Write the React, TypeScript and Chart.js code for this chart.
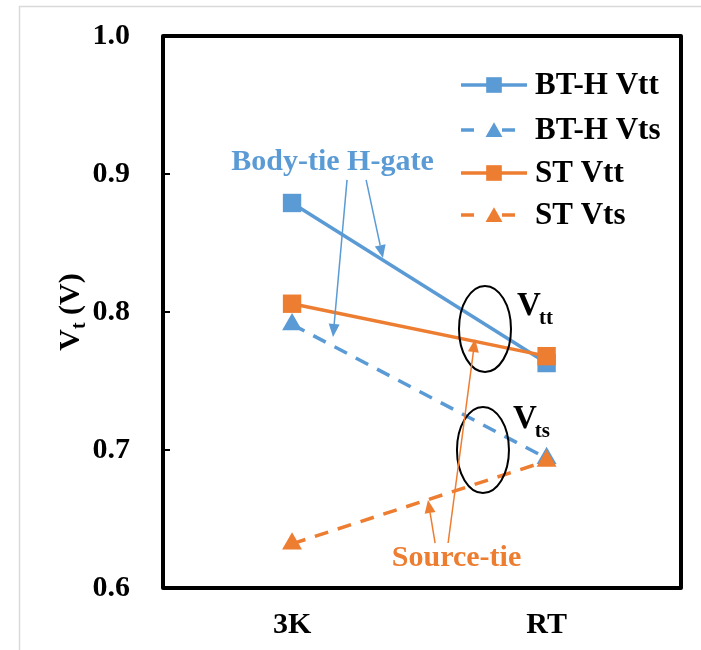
import React, { useEffect, useRef } from "react";
import { Chart, registerables } from "chart.js";

Chart.register(...registerables);

// Temperatures on the x axis
const categories = ["3K", "RT"];

// Threshold voltages (V)
const btVtt = [0.879, 0.763];
const btVts = [0.791, 0.694];
const stVtt = [0.806, 0.768];
const stVts = [0.632, 0.692];

// Y axis range / ticks
const yMin = 0.6;
const yMax = 1.0;
const yStep = 0.1;

const BLUE = "#5B9BD5";
const ORANGE = "#ED7D31";
const SERIF = "'Liberation Serif', 'Times New Roman', serif";
const FONT_SIZE = 30;
const LEGEND_SIZE = 31;
const SUB_SIZE = 20;

type Series = {
  label: string;
  data: number[];
  color: string;
  dashed: boolean;
  marker: "rect" | "triangle";
  order: number;
};

const series: Series[] = [
  { label: "BT-H Vtt", data: btVtt, color: BLUE, dashed: false, marker: "rect", order: 4 },
  { label: "BT-H Vts", data: btVts, color: BLUE, dashed: true, marker: "triangle", order: 3 },
  { label: "ST Vtt", data: stVtt, color: ORANGE, dashed: false, marker: "rect", order: 2 },
  { label: "ST Vts", data: stVts, color: ORANGE, dashed: true, marker: "triangle", order: 1 },
];

const DASH = [14, 10];
const RECT_R = 13;
const TRI_R = 11.5;

// Callout arrows, in data coordinates (x index, voltage)
const arrows = [
  { from: [0.216, 0.8957], to: [0.161, 0.7819], color: BLUE },
  { from: [0.291, 0.8957], to: [0.357, 0.8391], color: BLUE },
  { from: [0.562, 0.6326], to: [0.534, 0.6638], color: ORANGE },
  { from: [0.613, 0.6326], to: [0.719, 0.7804], color: ORANGE },
];

// Ellipses grouping the Vtt and Vts end points
const ellipses = [
  { at: [0.758, 0.7877], sub: "tt", labelAt: [0.884, 0.7978] },
  { at: [0.75, 0.7], sub: "ts", labelAt: [0.868, 0.716] },
];

const callouts = [
  { text: "Body-tie H-gate", at: [0.159, 0.9087], color: BLUE },
  { text: "Source-tie", at: [0.646, 0.6217], color: ORANGE },
];

const font = (size: number) => `bold ${size}px ${SERIF}`;

function drawArrow(ctx: CanvasRenderingContext2D, x1: number, y1: number, x2: number, y2: number, color: string) {
  const ang = Math.atan2(y2 - y1, x2 - x1);
  const headLen = 13;
  const headW = 5.5;
  const bx = x2 - Math.cos(ang) * headLen;
  const by = y2 - Math.sin(ang) * headLen;
  ctx.save();
  ctx.strokeStyle = color;
  ctx.fillStyle = color;
  ctx.lineWidth = 1.5;
  ctx.beginPath();
  ctx.moveTo(x1, y1);
  ctx.lineTo(bx, by);
  ctx.stroke();
  ctx.beginPath();
  ctx.moveTo(x2, y2);
  ctx.lineTo(bx + Math.sin(ang) * headW, by - Math.cos(ang) * headW);
  ctx.lineTo(bx - Math.sin(ang) * headW, by + Math.cos(ang) * headW);
  ctx.closePath();
  ctx.fill();
  ctx.restore();
}

function drawMarker(ctx: CanvasRenderingContext2D, kind: string, x: number, y: number, color: string, scale = 1) {
  ctx.save();
  ctx.fillStyle = color;
  ctx.beginPath();
  if (kind === "rect") {
    const s = Math.SQRT1_2 * RECT_R * scale;
    ctx.rect(x - s, y - s, 2 * s, 2 * s);
  } else {
    const r = TRI_R * scale;
    ctx.moveTo(x, y - r);
    ctx.lineTo(x + r * Math.sin((2 * Math.PI) / 3), y - r * Math.cos((2 * Math.PI) / 3));
    ctx.lineTo(x - r * Math.sin((2 * Math.PI) / 3), y - r * Math.cos((2 * Math.PI) / 3));
    ctx.closePath();
  }
  ctx.fill();
  ctx.restore();
}

const decorPlugin = {
  id: "decor",
  afterDatasetsDraw(chart: any) {
    const { ctx, chartArea: a, scales } = chart;
    const xs = scales.x;
    const ys = scales.y;
    const px = (v: number) => xs.getPixelForValue(v);
    const py = (v: number) => ys.getPixelForValue(v);

    // Plot frame
    ctx.save();
    ctx.strokeStyle = "#000";
    ctx.lineWidth = 4;
    ctx.lineJoin = "round";
    ctx.strokeRect(a.left, a.top, a.right - a.left, a.bottom - a.top);
    // Inner tick marks on the value axis
    ctx.lineWidth = 2;
    for (let v = yMin + yStep; v < yMax - 1e-6; v += yStep) {
      const y = Math.round(py(v));
      ctx.beginPath();
      ctx.moveTo(a.left, y);
      ctx.lineTo(a.left + 7, y);
      ctx.stroke();
    }
    ctx.restore();

    // Ellipses with V labels
    ellipses.forEach((e) => {
      ctx.save();
      ctx.strokeStyle = "#000";
      ctx.lineWidth = 2;
      ctx.beginPath();
      ctx.ellipse(px(e.at[0]), py(e.at[1]), 26, 43, 0, 0, Math.PI * 2);
      ctx.stroke();
      const lx = px(e.labelAt[0]);
      const ly = py(e.labelAt[1]);
      ctx.fillStyle = "#000";
      ctx.textBaseline = "alphabetic";
      ctx.textAlign = "left";
      ctx.font = font(FONT_SIZE + 3);
      ctx.fillText("V", lx, ly);
      const w = ctx.measureText("V").width;
      ctx.font = font(SUB_SIZE + 1);
      ctx.fillText(e.sub, lx + w - 2, ly + 9);
      ctx.restore();
    });

    // Callout texts and arrows
    callouts.forEach((c) => {
      ctx.save();
      ctx.fillStyle = c.color;
      ctx.font = font(FONT_SIZE);
      ctx.textAlign = "center";
      ctx.textBaseline = "middle";
      ctx.fillText(c.text, px(c.at[0]), py(c.at[1]));
      ctx.restore();
    });
    arrows.forEach((ar) =>
      drawArrow(ctx, px(ar.from[0]), py(ar.from[1]), px(ar.to[0]), py(ar.to[1]), ar.color)
    );
  },
  afterDraw(chart: any) {
    const { ctx, chartArea: a } = chart;

    // Legend: line sample with centred marker
    const rowYs = [49, 94, 137, 179];
    const x0 = a.right - 220;
    const x1 = a.right - 154;
    series.forEach((s, i) => {
      const y = a.top + rowYs[i];
      ctx.save();
      ctx.strokeStyle = s.color;
      ctx.lineWidth = 3.5;
      if (s.dashed) ctx.setLineDash([13, 28]);
      ctx.beginPath();
      ctx.moveTo(x0, y);
      ctx.lineTo(x1, y);
      ctx.stroke();
      ctx.setLineDash([]);
      drawMarker(ctx, s.marker, (x0 + x1) / 2, y + (s.marker === "triangle" ? 2 : 0), s.color, 0.85);
      ctx.fillStyle = "#000";
      ctx.font = font(LEGEND_SIZE);
      ctx.textAlign = "left";
      ctx.textBaseline = "middle";
      ctx.fillText(s.label, x1 + 8, y + 1);
      ctx.restore();
    });

    // Rotated value-axis title: V_t (V)
    ctx.save();
    ctx.translate(69, (a.top + a.bottom) / 2);
    ctx.rotate(-Math.PI / 2);
    ctx.fillStyle = "#000";
    ctx.textBaseline = "alphabetic";
    ctx.textAlign = "left";
    ctx.font = font(FONT_SIZE);
    const wV = ctx.measureText("V").width;
    const wRest = ctx.measureText(" (V)").width;
    ctx.font = font(SUB_SIZE);
    const wSub = ctx.measureText("t").width;
    const total = wV + wSub + wRest;
    let cx = -total / 2;
    ctx.font = font(FONT_SIZE);
    ctx.fillText("V", cx, 10);
    cx += wV;
    ctx.font = font(SUB_SIZE);
    ctx.fillText("t", cx, 16);
    cx += wSub;
    ctx.font = font(FONT_SIZE);
    ctx.fillText(" (V)", cx, 10);
    ctx.restore();

    // Light outer frame of the figure
    ctx.save();
    ctx.strokeStyle = "#d9d9d9";
    ctx.lineWidth = 1.5;
    ctx.beginPath();
    ctx.moveTo(19.5, chart.height);
    ctx.lineTo(19.5, 6.5);
    ctx.lineTo(chart.width, 6.5);
    ctx.stroke();
    ctx.restore();
  },
};

export default function App() {
  const canvasRef = useRef<HTMLCanvasElement | null>(null);

  useEffect(() => {
    const canvas = canvasRef.current;
    if (!canvas) return;
    const chart = new Chart(canvas, {
      type: "line",
      data: {
        datasets: series.map((s) => ({
          label: s.label,
          data: s.data.map((v, i) => ({ x: i, y: v })),
          borderColor: s.color,
          backgroundColor: s.color,
          borderWidth: 3.5,
          borderDash: s.dashed ? DASH : [],
          pointStyle: s.marker,
          pointRadius: s.marker === "rect" ? RECT_R : TRI_R,
          pointBorderWidth: 0,
          pointBackgroundColor: s.color,
          order: s.order,
          tension: 0,
        })),
      },
      options: {
        responsive: false,
        animation: false,
        layout: { padding: { left: 0, top: 36, right: 20, bottom: 0 } },
        plugins: {
          legend: { display: false },
          tooltip: { enabled: false },
        },
        scales: {
          x: {
            type: "linear",
            min: -0.507,
            max: 1.528,
            grid: { display: false, drawTicks: false },
            border: { display: false },
            afterBuildTicks: (scale: any) => {
              scale.ticks = categories.map((_, i) => ({ value: i }));
            },
            afterFit: (scale: any) => {
              scale.height = 62;
              scale.paddingLeft = 0;
              scale.paddingRight = 0;
            },
            ticks: {
              color: "#000",
              font: { family: SERIF, size: FONT_SIZE, weight: "bold" },
              padding: 19,
              maxRotation: 0,
              callback: (v: any) => categories[v] ?? "",
            },
          },
          y: {
            min: yMin,
            max: yMax,
            grid: { display: false, drawTicks: false },
            border: { display: false },
            afterFit: (scale: any) => {
              scale.width = 163;
              scale.paddingTop = 0;
              scale.paddingBottom = 0;
            },
            ticks: {
              stepSize: yStep,
              color: "#000",
              font: { family: SERIF, size: FONT_SIZE, weight: "bold" },
              padding: 33,
              callback: (v: any) => Number(v).toFixed(1),
            },
          },
        },
      },
      plugins: [decorPlugin],
    } as any);
    return () => chart.destroy();
  }, []);

  return (
    <div style={{ position: "fixed", left: 0, top: 0, width: 701, height: 650, background: "#fff" }}>
      <canvas ref={canvasRef} width={701} height={650} style={{ width: 701, height: 650, display: "block" }} />
    </div>
  );
}
